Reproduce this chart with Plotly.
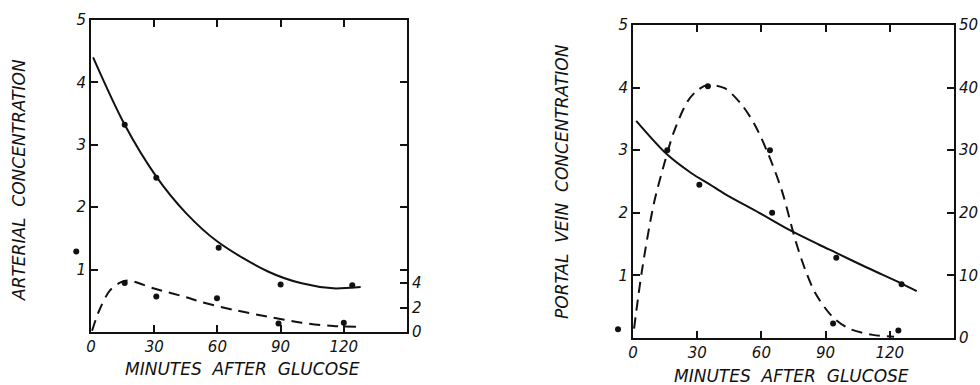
import plotly.graph_objects as go

# ---------------- Left panel (arterial) ----------------
art_curve_x = [1, 16, 31, 45, 60, 84, 100, 115, 123, 128]
art_curve_y = [4.40, 3.32, 2.49, 1.91, 1.45, 0.97, 0.78, 0.70, 0.71, 0.72]
art_pts_x = [16, 31, 60.6, 90, 124]
art_pts_y = [3.32, 2.47, 1.35, 0.76, 0.75]
art_base_x = [-7]
art_base_y = [1.29]

art_dash_x = [0.5, 4, 9, 14, 18, 30, 45, 52, 68, 84, 100, 115, 128]
art_dash_y = [0.1, 1.8, 3.4, 4.05, 4.2, 3.55, 2.85, 2.47, 1.8, 1.25, 0.76, 0.49, 0.43]
art_dpts_x = [16, 31, 59.8, 89, 120]
art_dpts_y = [4.0, 2.9, 2.75, 0.7, 0.76]

# ---------------- Right panel (portal vein) ----------------
por_curve_x = [1.5, 16, 27, 36, 43, 59, 74, 87, 95, 109, 125.5, 132.6]
por_curve_y = [3.47, 2.93, 2.64, 2.45, 2.30, 2.0, 1.71, 1.49, 1.36, 1.13, 0.87, 0.75]
por_pts_x = [31, 65, 95, 125.5]
por_pts_y = [2.45, 2.0, 1.28, 0.86]

por_dash_x = [0.5, 4.2, 9.7, 14.5, 19.2, 25.5, 30.2, 35, 42.8, 50.7, 57, 63.3, 69.6,
              75.9, 80.6, 85.3, 93.2, 101, 112, 122]
por_dash_y = [1.5, 10.8, 21.4, 27.7, 33, 37.8, 39.6, 40.4, 39.9, 37.3, 34, 29.3, 23.5,
              15.6, 10.8, 7.1, 3.4, 1.5, 0.5, 0.2]
por_dpts_x = [16, 35, 64, 93.5, 124]
por_dpts_y = [30, 40.2, 30, 2.3, 1.2]
por_base_x = [-7]
por_base_y = [0.14]

x_ticks = [0, 30, 60, 90, 120]
x_ticklabels = ["0", "30", "60", "90", "120"]
left_ticks = [1, 2, 3, 4, 5]
art_right_ticks = [0, 2, 4]
por_right_ticks = [0, 10, 20, 30, 40, 50]

FONT = "DejaVu Sans"
ink = "#111"

W, H = 980, 385

def fx(px):
    return px / W

def fy(py):
    return 1 - py / H

fig = go.Figure()

def line(x, y, xa, ya, dash):
    fig.add_trace(go.Scatter(x=x, y=y, xaxis=xa, yaxis=ya, mode="lines",
                             line=dict(color=ink, width=2, dash=dash, shape="spline", smoothing=0.9),
                             showlegend=False, hoverinfo="skip"))

def pts(x, y, xa, ya):
    fig.add_trace(go.Scatter(x=x, y=y, xaxis=xa, yaxis=ya, mode="markers",
                             marker=dict(color=ink, size=6), cliponaxis=False,
                             showlegend=False, hoverinfo="skip"))

line(art_curve_x, art_curve_y, "x", "y", "solid")
pts(art_pts_x, art_pts_y, "x", "y")
line(art_dash_x, art_dash_y, "x", "y3", "11px,7px")
pts(art_dpts_x, art_dpts_y, "x", "y3")

line(por_curve_x, por_curve_y, "x2", "y2", "solid")
pts(por_pts_x, por_pts_y, "x2", "y2")
line(por_dash_x, por_dash_y, "x2", "y4", "11px,7px")
pts(por_dpts_x, por_dpts_y, "x2", "y4")

# baseline (pre-glucose) dots left of the axes, on extended hidden axes with the same scale
pts(art_base_x, art_base_y, "x3", "y5")
pts(por_base_x, por_base_y, "x4", "y6")

tickfont = dict(family=FONT, size=15, color=ink, style="italic")
common = dict(showline=True, linecolor=ink, linewidth=2, ticks="inside", ticklen=7,
              tickwidth=2, tickcolor=ink, showgrid=False, zeroline=False,
              tickfont=tickfont, automargin=False, fixedrange=True)
hidden = dict(visible=False, showgrid=False, zeroline=False, fixedrange=True)

L0, L1 = 91, 407
R0, R1 = 633, 954
EXT = 20  # minutes of hidden extension to the left
L = [fx(L0), fx(L1)]
R = [fx(R0), fx(R1)]
Lext = [fx(L0 - (L1 - L0) * EXT / 150), fx(L1)]
Rext = [fx(R0 - (R1 - R0) * EXT / 150), fx(R1)]
LY = [fy(332), fy(20)]
RY = [fy(338), fy(25)]

fig.update_layout(
    width=W, height=H, margin=dict(l=0, r=0, t=0, b=0),
    paper_bgcolor="white", plot_bgcolor="rgba(0,0,0,0)",
    xaxis=dict(domain=L, range=[0, 150], tickvals=x_ticks, ticktext=x_ticklabels,
               mirror="ticks", anchor="y", **common),
    yaxis=dict(domain=LY, range=[0, 5], tickvals=left_ticks, mirror="ticks",
               anchor="x", **common),
    yaxis3=dict(domain=LY, range=[0, 25.5], tickvals=art_right_ticks, overlaying="y",
                side="right", anchor="x", **common),
    xaxis2=dict(domain=R, range=[0, 150], tickvals=x_ticks, ticktext=x_ticklabels,
                mirror="ticks", anchor="y2", **common),
    yaxis2=dict(domain=RY, range=[0, 5], tickvals=left_ticks, anchor="x2", **common),
    yaxis4=dict(domain=RY, range=[0, 50], tickvals=por_right_ticks, overlaying="y2",
                side="right", anchor="x2", **common),
    xaxis3=dict(domain=Lext, range=[-EXT, 150], anchor="y5", **hidden),
    yaxis5=dict(domain=LY, range=[0, 5], anchor="x3", **hidden),
    xaxis4=dict(domain=Rext, range=[-EXT, 150], anchor="y6", **hidden),
    yaxis6=dict(domain=RY, range=[0, 5], anchor="x4", **hidden),
)

titlefont = dict(family=FONT, size=17, color=ink, style="italic")
ann = dict(xref="paper", yref="paper", showarrow=False, font=titlefont,
           xanchor="center", yanchor="middle")
fig.add_annotation(text="ARTERIAL  CONCENTRATION", x=fx(19), y=fy(180), textangle=-90, **ann)
fig.add_annotation(text="PORTAL  VEIN  CONCENTRATION", x=fx(562), y=fy(182), textangle=-90, **ann)
fig.add_annotation(text="MINUTES  AFTER  GLUCOSE", x=fx(242), y=fy(369), **ann)
fig.add_annotation(text="MINUTES  AFTER  GLUCOSE", x=fx(791), y=fy(376), **ann)

fig.write_html("out.html", config={"displayModeBar": False},
               post_script="document.body.style.margin='0';document.body.style.overflow='hidden';")
